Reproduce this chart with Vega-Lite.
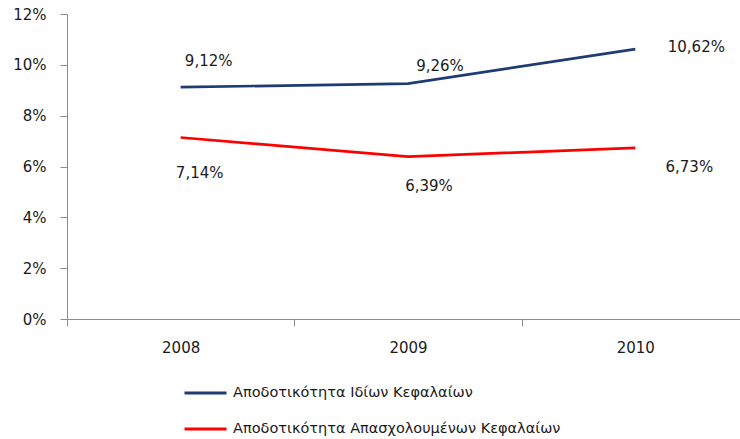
{
  "$schema": "https://vega.github.io/schema/vega-lite/v6.json",
  "autosize": {"type": "none"},
  "width": 673,
  "height": 305,
  "padding": {"left": 67, "top": 14, "right": 0, "bottom": 120},
  "background": "white",
  "config": {
    "view": {"stroke": null},
    "font": "DejaVu Sans",
    "locale": {"number": {"decimal": ",", "thousands": ".", "grouping": [3], "currency": ["", " €"]}}
  },
  "data": {"values": [
    {"series": "Αποδοτικότητα Ιδίων Κεφαλαίων", "year": "2008", "value": 0.0912},
    {"series": "Αποδοτικότητα Ιδίων Κεφαλαίων", "year": "2009", "value": 0.0926},
    {"series": "Αποδοτικότητα Ιδίων Κεφαλαίων", "year": "2010", "value": 0.1062},
    {"series": "Αποδοτικότητα Απασχολουμένων Κεφαλαίων", "year": "2008", "value": 0.0714},
    {"series": "Αποδοτικότητα Απασχολουμένων Κεφαλαίων", "year": "2009", "value": 0.0639},
    {"series": "Αποδοτικότητα Απασχολουμένων Κεφαλαίων", "year": "2010", "value": 0.0673}
  ]},
  "encoding": {
    "x": {"field": "year", "type": "nominal",
      "scale": {"type": "band", "paddingInner": 0, "paddingOuter": 0, "range": [0, 682]},
      "axis": {"title": null, "labelAngle": 0, "tickBand": "extent", "domainColor": "#8c8c8c", "tickColor": "#8c8c8c", "tickSize": 7, "labelFontSize": 15, "labelColor": "#1a1a1a", "labelPadding": 14, "grid": false}},
    "y": {"field": "value", "type": "quantitative",
      "scale": {"domain": [0, 0.12], "nice": false},
      "axis": {"title": null, "values": [0, 0.02, 0.04, 0.06, 0.08, 0.1, 0.12], "format": ".0%", "grid": false, "domainColor": "#8c8c8c", "tickColor": "#8c8c8c", "tickSize": 7, "labelFontSize": 15, "labelColor": "#1a1a1a", "labelPadding": 14}}
  },
  "layer": [
    {
      "mark": {"type": "line", "strokeWidth": 2.7},
      "encoding": {
        "color": {"field": "series", "type": "nominal",
          "scale": {"domain": ["Αποδοτικότητα Ιδίων Κεφαλαίων", "Αποδοτικότητα Απασχολουμένων Κεφαλαίων"], "range": ["#1f3b73", "#ff0000"]},
          "legend": {"title": null, "orient": "none", "legendX": 116, "legendY": 364, "direction": "vertical",
            "symbolType": "stroke", "symbolSize": 1764, "symbolStrokeWidth": 3,
            "labelFontSize": 14.5, "labelColor": "#1a1a1a", "labelOffset": 5, "labelLimit": 600, "clipHeight": 30, "rowPadding": 6}}
      }
    },
    {"transform": [{"filter": "datum.series === 'Αποδοτικότητα Ιδίων Κεφαλαίων' && datum.year === '2008'"}],
     "mark": {"type": "text", "fontSize": 15, "color": "#1a1a1a", "dx": 28, "dy": -26},
     "encoding": {"text": {"field": "value", "type": "quantitative", "format": ".2%"}}},
    {"transform": [{"filter": "datum.series === 'Αποδοτικότητα Ιδίων Κεφαλαίων' && datum.year === '2009'"}],
     "mark": {"type": "text", "fontSize": 15, "color": "#1a1a1a", "dx": 32, "dy": -18},
     "encoding": {"text": {"field": "value", "type": "quantitative", "format": ".2%"}}},
    {"transform": [{"filter": "datum.series === 'Αποδοτικότητα Ιδίων Κεφαλαίων' && datum.year === '2010'"}],
     "mark": {"type": "text", "fontSize": 15, "color": "#1a1a1a", "dx": 61, "dy": -2},
     "encoding": {"text": {"field": "value", "type": "quantitative", "format": ".2%"}}},
    {"transform": [{"filter": "datum.series === 'Αποδοτικότητα Απασχολουμένων Κεφαλαίων' && datum.year === '2008'"}],
     "mark": {"type": "text", "fontSize": 15, "color": "#1a1a1a", "dx": 19, "dy": 35},
     "encoding": {"text": {"field": "value", "type": "quantitative", "format": ".2%"}}},
    {"transform": [{"filter": "datum.series === 'Αποδοτικότητα Απασχολουμένων Κεφαλαίων' && datum.year === '2009'"}],
     "mark": {"type": "text", "fontSize": 15, "color": "#1a1a1a", "dx": 21, "dy": 29},
     "encoding": {"text": {"field": "value", "type": "quantitative", "format": ".2%"}}},
    {"transform": [{"filter": "datum.series === 'Αποδοτικότητα Απασχολουμένων Κεφαλαίων' && datum.year === '2010'"}],
     "mark": {"type": "text", "fontSize": 15, "color": "#1a1a1a", "dx": 54, "dy": 19},
     "encoding": {"text": {"field": "value", "type": "quantitative", "format": ".2%"}}}
  ]
}
